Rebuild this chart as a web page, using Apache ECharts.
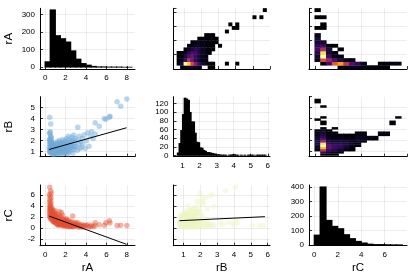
<!DOCTYPE html>
<html><head><meta charset="utf-8">
<script src="https://cdn.jsdelivr.net/npm/echarts@6/dist/echarts.min.js"></script>
<style>html,body{margin:0;padding:0;background:#fff}#c{width:415px;height:277px}</style>
</head><body><div id="c"></div><script>
// ---------------- data ----------------
const varNames = ['rA', 'rB', 'rC'];

// 1-D histograms: first bin edge, bin width, counts
const rAHistStart = 0, rAHistWidth = 0.5;
const rAHistCounts = [32, 326, 180, 163, 144, 94, 47, 22, 13, 6, 3, 3, 2, 2, 2, 1, 1];
const rBHistStart = 0.7, rBHistWidth = 0.1;
const rBHistCounts = [6, 28, 58, 95, 133, 131, 128, 100, 78, 78, 52, 31, 30, 18, 17, 12, 10, 7, 7, 6,
  5, 4, 3, 2, 2, 1, 1, 1, 1, 0, 1, 1, 2, 2, 1, 1, 0, 1, 0, 1, 0, 1, 1, 1, 1, 0, 1, 1, 1, 1, 1, 1];
const rCHistStart = 0, rCHistWidth = 0.5;
const rCHistCounts = [70, 400, 171, 130, 114, 73, 46, 27, 16, 8, 5, 5, 4, 3, 3];

// samples [rA, rB, rC]
const samples = [
  [0.45,4.1,7.4],[0.55,3.5,6.7],[0.42,2.7,6.1],[0.48,2.6,5.8],[0.45,2.1,5.2],[0.43,2.1,4.7],
  [0.47,1.9,4.2],[0.44,1.7,3.6],[0.41,1.4,3.0],[0.46,1.2,2.6],[0.43,1.0,2.2],[0.49,0.9,1.9],
  [0.52,1.6,3.4],[0.55,1.8,4.9],[0.58,2.3,5.5],[0.6,2.0,6.3],[0.5,1.3,4.0],[0.53,1.1,3.1],
  [0.52,2.8,3.9],[0.55,2.4,3.5],[0.58,2.2,4.4],[0.6,1.9,3.2],[0.62,1.6,2.9],[0.55,1.3,2.6],
  [0.58,1.1,2.3],[0.6,0.9,2.1],[0.65,1.4,3.3],[0.68,1.2,2.7],[0.7,1.0,2.4],[0.66,0.85,1.9],
  [0.72,1.7,2.8],[0.75,1.5,2.2],[0.74,1.3,1.8],[0.78,1.1,2.0],[0.8,0.9,1.6],[0.77,0.8,2.3],
  [0.82,1.6,2.5],[0.85,1.4,1.9],[0.84,1.2,1.5],[0.88,1.0,1.7],[0.9,0.85,1.3],[0.86,1.8,3.0],
  [0.92,1.5,2.1],[0.94,1.3,1.6],[0.95,1.1,1.2],[0.97,0.9,1.4],[0.98,1.7,2.4],[0.99,1.2,1.8],
  [0.53,1.0,1.7],[0.57,1.5,2.0],[0.63,1.2,1.5],[0.69,1.6,3.6],[0.71,0.95,1.3],[0.79,1.3,2.9],
  [0.83,0.75,1.1],[0.87,1.25,1.1],[0.91,1.0,2.6],[0.96,1.4,3.2],
  [1.02,1.1,1.0],[1.05,0.9,1.4],[1.08,1.5,1.7],[1.1,1.3,0.8],[1.12,0.8,1.1],[1.15,1.7,2.2],
  [1.18,1.2,1.3],[1.2,1.0,0.7],[1.22,1.9,2.6],[1.25,1.4,1.0],[1.28,0.85,0.9],[1.3,1.6,1.5],
  [1.32,1.1,0.6],[1.35,1.3,1.9],[1.38,2.0,3.0],[1.4,0.95,1.2],[1.42,1.5,0.8],[1.45,1.2,1.6],
  [1.47,1.8,1.1],[1.03,1.4,2.4],[1.13,1.0,1.8],[1.27,1.7,0.5],[1.37,0.8,0.7],[1.48,1.05,2.1],
  [1.52,1.2,0.9],[1.55,1.5,1.3],[1.57,0.9,0.6],[1.6,1.8,2.8],[1.62,1.1,0.5],[1.65,1.4,0.8],
  [1.68,0.8,1.0],[1.7,2.1,2.3],[1.72,1.3,0.4],[1.75,1.6,1.1],[1.77,1.0,0.7],[1.8,1.9,1.4],
  [1.82,1.25,0.9],[1.85,0.85,0.5],[1.87,1.5,0.6],[1.9,1.7,1.6],[1.92,1.1,0.35],[1.95,1.4,1.2],
  [1.97,2.0,0.8],[1.58,1.7,2.0],[1.78,0.95,1.5],[1.99,1.2,0.6],
  [2.02,1.3,0.7],[2.05,1.7,1.2],[2.08,0.9,0.4],[2.1,2.2,1.7],[2.13,1.5,0.5],[2.15,1.1,0.9],
  [2.18,1.9,0.6],[2.2,1.3,0.3],[2.23,0.8,0.6],[2.25,1.6,1.0],[2.28,2.4,1.4],[2.3,1.2,0.45],
  [2.33,1.8,0.8],[2.36,1.0,0.25],[2.4,1.5,0.7],[2.43,2.1,1.1],[2.45,1.3,0.5],[2.48,1.7,0.3],
  [2.12,1.0,1.4],
  [2.52,1.4,0.6],[2.55,1.9,0.9],[2.6,1.1,0.3],[2.63,2.3,1.2],[2.67,1.6,0.45],[2.7,2.0,2.2],
  [2.72,0.85,0.4],[2.75,1.5,0.2],[2.8,2.5,0.8],[2.83,1.2,0.6],[2.88,1.8,0.35],[2.92,1.4,1.0],
  [2.97,2.2,0.5],
  [3.02,1.5,0.5],[3.08,2.0,0.8],[3.15,1.1,0.25],[3.2,3.2,1.0],[3.27,1.7,0.35],[3.33,2.4,0.6],
  [3.4,1.3,0.15],[3.47,1.9,0.45],
  [3.55,1.4,0.3],[3.62,2.2,0.6],[3.7,1.7,0.2],[3.8,2.5,0.5],[3.92,1.3,0.35],
  [4.05,2.0,0.4],[4.15,2.7,0.6],[4.3,1.5,0.2],[4.42,2.4,0.3],
  [4.55,2.8,0.5],[4.7,2.2,0.25],[4.9,2.6,0.4],
  [4.9,3.6,0.95],[5.3,3.3,0.6],[5.8,4.0,0.5],[5.95,3.9,0.95],[6.35,4.2,0.9],[6.3,4.1,1.3],
  [7.05,5.5,0.45],[7.4,5.1,0.5],[8.0,5.75,0.45]
];

// regression line end points
const fitAB = [[0.39, 1.2], [7.97, 3.16]];
const fitAC = [[0.39, 2.17], [7.97, -2.95]];
const fitBC = [[0.76, 1.33], [5.84, 2.06]];

// 2-D histograms: [x bin start, y bin start, count]
const heatABbinX = 0.2, heatABbinY = 0.5;   // x = rB, y = rA
const heatAB = [
  [0.8,0,2],[1.0,0,5],[1.2,0,8],[1.4,0,7],[1.6,0,5],[1.8,0,3],[2.4,0,1],[2.6,0,1],
  [0.6,0.5,2],[0.8,0.5,10],[1.0,0.5,95],[1.2,0.5,85],[1.4,0.5,55],[1.6,0.5,35],[1.8,0.5,20],[2.0,0.5,10],[2.2,0.5,5],[2.4,0.5,3],[2.6,0.5,1],[3.4,0.5,1],[4.0,0.5,1],
  [0.6,1.0,1],[0.8,1.0,4],[1.0,1.0,20],[1.2,1.0,45],[1.4,1.0,30],[1.6,1.0,16],[1.8,1.0,8],[2.0,1.0,4],[2.2,1.0,2],
  [0.6,1.5,1],[0.8,1.5,3],[1.0,1.5,12],[1.2,1.5,24],[1.4,1.5,28],[1.6,1.5,18],[1.8,1.5,9],[2.0,1.5,5],[2.2,1.5,2],
  [0.6,2.0,1],[0.8,2.0,1],[1.0,2.0,6],[1.2,2.0,15],[1.4,2.0,22],[1.6,2.0,20],[1.8,2.0,12],[2.0,2.0,7],[2.2,2.0,4],[2.4,2.0,1],
  [1.0,2.5,3],[1.2,2.5,6],[1.4,2.5,11],[1.6,2.5,15],[1.8,2.5,11],[2.0,2.5,6],[2.2,2.5,4],[2.4,2.5,2],[2.6,2.5,1],
  [1.2,3.0,2],[1.4,3.0,4],[1.6,3.0,7],[1.8,3.0,6],[2.0,3.0,4],[2.2,3.0,3],[2.4,3.0,1],[2.6,3.0,1],[3.0,3.0,1],
  [1.4,3.5,2],[1.6,3.5,4],[1.8,3.5,5],[2.0,3.5,4],[2.2,3.5,3],[2.4,3.5,2],[2.6,3.5,1],[2.8,3.5,1],
  [1.8,4.0,1],[2.0,4.0,2],[2.2,4.0,2],[2.4,4.0,2],[2.6,4.0,2],[2.8,4.0,1],
  [2.2,4.5,1],[2.4,4.5,2],[2.6,4.5,1],
  [3.4,5.0,1],[3.8,5.5,1],[4.0,5.5,1],[3.6,6.0,1],[4.0,6.0,1],
  [5.0,7.0,1],[5.4,7.0,1],[5.6,8.0,1]
];
const heatACbinX = 0.5, heatACbinY = 0.5;   // x = rC, y = rA
const heatAC = [
  [2.0,0,4],[2.5,0,5],[3.0,0,5],[3.5,0,5],[4.0,0,4],[4.5,0,3],[5.0,0,3],[5.5,0,2],[6.0,0,1],
  [0.5,0.5,3],[1.0,0.5,25],[1.5,0.5,75],[2.0,0.5,95],[2.5,0.5,60],[3.0,0.5,30],[3.5,0.5,22],[4.0,0.5,6],[5.5,0.5,3],[6.0,0.5,3],[6.5,0.5,3],[7.0,0.5,3],
  [0,1.0,5],[0.5,1.0,70],[1.0,1.0,50],[1.5,1.0,30],[2.0,1.0,15],[2.5,1.0,6],[3.0,1.0,3],
  [0,1.5,10],[0.5,1.5,120],[1.0,1.5,25],[1.5,1.5,7],[2.0,1.5,3],
  [0,2.0,18],[0.5,2.0,110],[1.0,2.0,12],[1.5,2.0,3],
  [0,2.5,25],[0.5,2.5,55],[1.0,2.5,13],[2.0,2.5,1],
  [0,3.0,20],[0.5,3.0,25],[1.0,3.0,2],[1.5,3.0,1],
  [0,3.5,12],[0.5,3.5,10],
  [0,4.0,12],[0,4.5,5],
  [0,5.5,1],[0.5,5.5,1],[0.5,6.0,1],
  [0,7.0,1],[0.5,7.0,1],[0,8.0,1]
];
const heatBCbinX = 0.5, heatBCbinY = 0.2;   // x = rC, y = rB
const heatBC = [
  [0,1.0,3],[0,1.2,6],[0,1.4,8],[0,1.6,9],[0,1.8,10],[0,2.0,9],[0,2.2,7],[0,2.4,5],[0,2.6,3],[0,2.8,2],[0,3.8,1],[0,5.4,1],[0,5.6,1],
  [0.5,0.6,3],[0.5,0.8,15],[0.5,1.0,40],[0.5,1.2,68],[0.5,1.4,80],[0.5,1.6,75],[0.5,1.8,35],[0.5,2.0,22],[0.5,2.2,15],[0.5,2.4,10],[0.5,2.6,6],[0.5,2.8,5],[0.5,3.0,3],[0.5,3.4,1],[0.5,3.6,1],[0.5,4.0,1],[0.5,5.0,1],
  [1.0,0.6,1],[1.0,0.8,7],[1.0,1.0,15],[1.0,1.2,22],[1.0,1.4,22],[1.0,1.6,15],[1.0,1.8,9],[1.0,2.0,6],[1.0,2.2,4],[1.0,2.4,2],[1.0,2.6,1],[1.0,2.8,1],
  [1.5,0.6,1],[1.5,0.8,5],[1.5,1.0,11],[1.5,1.2,16],[1.5,1.4,16],[1.5,1.6,12],[1.5,1.8,8],[1.5,2.0,5],[1.5,2.2,3],[1.5,2.4,2],[1.5,2.6,1],[1.5,3.0,1],
  [2.0,0.8,2],[2.0,1.0,7],[2.0,1.2,13],[2.0,1.4,15],[2.0,1.6,12],[2.0,1.8,8],[2.0,2.0,5],[2.0,2.2,4],[2.0,2.4,1],
  [2.5,1.0,3],[2.5,1.2,7],[2.5,1.4,10],[2.5,1.6,9],[2.5,1.8,7],[2.5,2.0,4],[2.5,2.2,2],[2.5,2.4,1],
  [3.0,1.0,1],[3.0,1.2,3],[3.0,1.4,5],[3.0,1.6,6],[3.0,1.8,5],[3.0,2.0,4],[3.0,2.2,2],[3.0,2.4,1],
  [3.5,1.4,2],[3.5,1.6,4],[3.5,1.8,6],[3.5,2.0,6],[3.5,2.2,5],[3.5,2.4,3],[3.5,2.6,1],
  [4.0,1.8,2],[4.0,2.0,5],[4.0,2.2,5],[4.0,2.4,3],[4.0,2.6,1],
  [4.5,2.0,4],[4.5,2.2,4],[5.0,2.0,2],[5.0,2.2,3],
  [5.5,2.4,2],[5.5,2.6,3],[6.0,2.4,2],[6.0,2.6,2],
  [6.5,3.4,2],[6.5,3.6,1],[7.0,4.0,3]
];

// ---------------- helpers ----------------
const INFERNO = ['#000004','#160b39','#420a68','#6a176e','#932667','#bc3754','#dd513a','#f37819','#fca50a','#f6d746','#fcffa4'];
function hex2rgb(h){return [parseInt(h.slice(1,3),16),parseInt(h.slice(3,5),16),parseInt(h.slice(5,7),16)];}
function inferno(t){
  t = Math.max(0, Math.min(1, t));
  const s = t * (INFERNO.length - 1), i = Math.min(INFERNO.length - 2, Math.floor(s)), f = s - i;
  const a = hex2rgb(INFERNO[i]), b = hex2rgb(INFERNO[i + 1]);
  return 'rgb(' + a.map((v, k) => Math.round(v + (b[k] - v) * f)).join(',') + ')';
}
function histRects(start, w, counts){
  const out = [];
  counts.forEach((c, i) => { if (c > 0) out.push([start + i * w, 0, start + (i + 1) * w, c, c]); });
  return out;
}
function heatRects(cells, bx, by){
  return cells.map(c => [c[0], c[1], c[0] + bx, c[1] + by, c[2]]);
}

const colL = [40, 173.5, 309], colW = [95, 96.5, 98];
const rowT = [8.3, 96.7, 185], rowH = [60.7, 60, 60.7];
const grids = [];
for (let r = 0; r < 3; r++) for (let c = 0; c < 3; c++)
  grids.push({left: colL[c], top: rowT[r], width: colW[c], height: rowH[r], containLabel: false});

const FONT = 'Liberation Sans';
function axis(gi, min, max, step, labels, extra){
  return Object.assign({
    type: 'value', gridIndex: gi, min: min, max: max, minInterval: step, maxInterval: step,
    axisLine: {show: true, onZero: false, lineStyle: {color: '#000', width: 1}},
    axisTick: {show: true, inside: true, length: 3, lineStyle: {color: '#000', width: 0.8}},
    axisLabel: {show: labels, fontSize: 8, fontFamily: FONT, color: '#000', margin: 5,
                showMinLabel: false, showMaxLabel: false},
    splitLine: {show: true, showMinLine: false, showMaxLine: false,
                lineStyle: {color: 'rgba(0,0,0,0.1)', width: 0.7}},
    nameTextStyle: {fontSize: 11.5, fontFamily: FONT, color: '#000'}
  }, extra || {});
}
const yName = n => ({name: n, nameLocation: 'middle', nameGap: 25});
const xName = n => ({name: n, nameLocation: 'middle', nameGap: 16});

const rArange = [-0.5, 8.8], rBrange = [0.47, 6.13], rCrange = [-3.2, 7.8];
const xAxes = [
  axis(0, rArange[0], rArange[1], 2, true),
  axis(1, 0.4, 6.0, 1, false),
  axis(2, -0.5, 8.0, 2, false),
  axis(3, rArange[0], rArange[1], 2, false),
  axis(4, rBrange[0], rBrange[1], 1, true),
  axis(5, -0.5, 8.0, 2, false),
  axis(6, rArange[0], rArange[1], 2, true, xName(varNames[0])),
  axis(7, 0.41, 6.14, 1, true, xName(varNames[1])),
  axis(8, -0.45, 7.9, 2, true, xName(varNames[2]))
];
const yAxes = [
  axis(0, -10, 334, 100, true, yName(varNames[0])),
  axis(1, 0, 8.5, 2, false),
  axis(2, 0, 8.5, 2, false),
  axis(3, 0.55, 5.96, 1, true, yName(varNames[1])),
  axis(4, -3, 136, 20, true),
  axis(5, 0.5, 6.0, 1, false),
  axis(6, rCrange[0], rCrange[1], 2, true, yName(varNames[2])),
  axis(7, rCrange[0], rCrange[1], 2, false),
  axis(8, -4, 412, 100, true)
];

// pad: pixels of horizontal overlap between neighbouring bars (hides seams)
function rectSeries(idx, rects, colorFn, pad){
  return {
    type: 'custom', xAxisIndex: idx, yAxisIndex: idx, data: rects, silent: true,
    encode: {x: [0, 2], y: [1, 3]},
    renderItem: function(params, api){
      const a = api.coord([api.value(0), api.value(1)]);
      const b = api.coord([api.value(2), api.value(3)]);
      const col = colorFn(api.value(4));
      return {type: 'rect',
        shape: {x: Math.min(a[0], b[0]) - pad, y: Math.min(a[1], b[1]) - pad * 0.5,
                width: Math.abs(b[0] - a[0]) + 2 * pad, height: Math.abs(b[1] - a[1]) + pad},
        style: {fill: col}};
    }
  };
}
function heatColor(cells){
  const mx = Math.max.apply(null, cells.map(c => c[2]));
  return v => inferno((v - 1) / (mx - 1));
}
function scatterSeries(idx, xi, yi, color){
  return {type: 'scatter', xAxisIndex: idx, yAxisIndex: idx, symbolSize: 5.5,
    data: samples.map(s => [s[xi], s[yi]]), silent: true,
    itemStyle: {color: color, borderWidth: 0}};
}
function fitSeries(idx, pts){
  return {type: 'line', xAxisIndex: idx, yAxisIndex: idx, data: pts, symbol: 'none', silent: true,
    lineStyle: {color: '#000', width: 1}};
}
const black = () => '#000';

const series = [
  rectSeries(0, histRects(rAHistStart, rAHistWidth, rAHistCounts), black, 0.6),
  rectSeries(1, heatRects(heatAB, heatABbinX, heatABbinY), heatColor(heatAB), 0.3),
  rectSeries(2, heatRects(heatAC, heatACbinX, heatACbinY), heatColor(heatAC), 0.3),
  scatterSeries(3, 0, 1, 'rgba(110,170,215,0.6)'),
  fitSeries(3, fitAB),
  rectSeries(4, histRects(rBHistStart, rBHistWidth, rBHistCounts), black, 0.6),
  rectSeries(5, heatRects(heatBC, heatBCbinX, heatBCbinY), heatColor(heatBC), 0.3),
  scatterSeries(6, 0, 2, 'rgba(228,80,50,0.55)'),
  fitSeries(6, fitAC),
  scatterSeries(7, 1, 2, 'rgba(236,246,196,0.55)'),
  fitSeries(7, fitBC),
  rectSeries(8, histRects(rCHistStart, rCHistWidth, rCHistCounts), black, 0.6)
];

const chart = echarts.init(document.getElementById('c'), null, {renderer: 'canvas'});
chart.setOption({
  animation: false, backgroundColor: '#fff',
  textStyle: {fontFamily: FONT},
  grid: grids, xAxis: xAxes, yAxis: yAxes, series: series
});
</script></body></html>
